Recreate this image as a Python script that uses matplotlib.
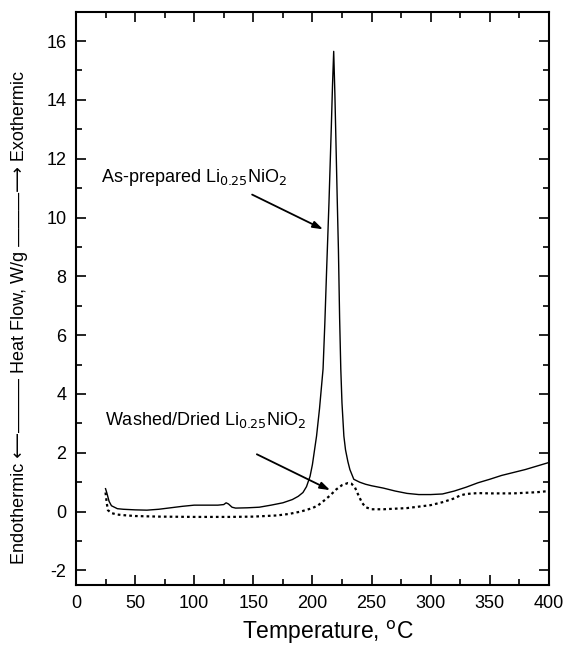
import matplotlib.pyplot as plt
from matplotlib.ticker import MultipleLocator

plt.rcParams['font.family'] = ['Liberation Sans', 'DejaVu Sans']
plt.rcParams['axes.unicode_minus'] = False

# as-prepared sample (solid line)
temp_prep = [25, 26, 28, 30, 35, 40, 50, 60, 70, 80, 90, 100, 110, 120, 125, 127, 129, 132,
             135, 145, 155, 165, 175, 183, 188, 192, 195, 198, 200, 203.5, 206, 209, 210.5, 212,
             214, 216, 217, 218, 219, 220, 221, 222, 223, 224, 225, 226.6, 228, 230, 231.7, 235,
             240, 245, 250, 260, 270, 280, 290, 300, 310, 320, 330, 340, 350, 360, 370, 380,
             390, 400]
flow_prep = [0.78, 0.65, 0.35, 0.2, 0.1, 0.08, 0.06, 0.05, 0.08, 0.13, 0.18, 0.22, 0.22, 0.22,
             0.24, 0.3, 0.26, 0.15, 0.12, 0.13, 0.15, 0.22, 0.3, 0.41, 0.52, 0.65, 0.85, 1.2,
             1.6, 2.57, 3.5, 4.85, 6.4, 8.2, 10.5, 13.1, 14.5, 15.65, 14.2, 12.4, 10.6, 8.9, 6.6,
             4.85, 3.7, 2.57, 2.1, 1.7, 1.43, 1.1, 1.0, 0.93, 0.88, 0.8, 0.7, 0.62, 0.58, 0.58,
             0.6, 0.7, 0.83, 0.98, 1.1, 1.23, 1.33, 1.43, 1.55, 1.67]

# washed / dried sample (dotted line)
temp_wash = [25, 26, 27, 30, 35, 40, 50, 70, 100, 130, 150, 170, 180, 190, 200, 205, 210, 215,
             220, 225, 230, 233, 236, 239, 242, 245, 250, 260, 270, 280, 290, 300, 310, 320,
             325, 330, 340, 350, 360, 370, 380, 390, 400]
flow_wash = [0.65, 0.3, 0.05, -0.05, -0.1, -0.12, -0.15, -0.17, -0.18, -0.18, -0.17, -0.13,
             -0.08, 0.0, 0.12, 0.22, 0.38, 0.55, 0.75, 0.9, 0.97, 0.95, 0.82, 0.55, 0.3, 0.15,
             0.08, 0.08, 0.1, 0.12, 0.17, 0.22, 0.32, 0.45, 0.55, 0.6, 0.63, 0.62, 0.62, 0.62,
             0.64, 0.66, 0.7]

# labels and arrows (data coords)
label_prep = 'As-prepared Li$_{0.25}$NiO$_2$'
label_wash = 'Washed/Dried Li$_{0.25}$NiO$_2$'
text_prep, tail_prep, head_prep = (21, 11.35), (149, 10.78), (209, 9.6)
text_wash, tail_wash, head_wash = (24.5, 3.1), (153, 1.95), (215, 0.73)

fig = plt.figure(figsize=(5.67, 6.48), dpi=100)
ax = fig.add_axes([0.134, 0.097, 0.834, 0.885])

ax.plot(temp_prep, flow_prep, color='black', lw=1.0)
ax.plot(temp_wash, flow_wash, color='black', lw=1.6, linestyle=(0, (1.2, 1.4)))

ax.set_xlim(0, 400)
ax.set_ylim(-2.5, 17)
ax.xaxis.set_major_locator(MultipleLocator(50))
ax.xaxis.set_minor_locator(MultipleLocator(25))
ax.yaxis.set_major_locator(MultipleLocator(2))
ax.yaxis.set_minor_locator(MultipleLocator(1))
ax.tick_params(which='both', direction='in', top=True, right=True, width=1.2, labelsize=13)
ax.tick_params(which='major', length=7, pad=7)
ax.tick_params(which='minor', length=4)
for s in ax.spines.values():
    s.set_linewidth(1.5)

ax.set_xlabel('Temperature, $^{\\rm o}$C', fontsize=16.5)
ax.xaxis.set_label_coords(0.533, -0.058)
ax.set_ylabel('Endothermic \u27f5\u2014\u2014\u2014 Heat Flow, W/g \u2014\u2014\u2014\u27f6 Exothermic',
              fontsize=13, va='center')
ax.yaxis.set_label_coords(-0.12, 0.466)

ax.text(text_prep[0], text_prep[1], label_prep, fontsize=13, va='center')
ax.text(text_wash[0], text_wash[1], label_wash, fontsize=13, va='center')
arrow = dict(arrowstyle='-|>,head_length=0.6,head_width=0.2', color='black', lw=1.3,
             shrinkA=0, shrinkB=0)
ax.annotate('', xy=head_prep, xytext=tail_prep, arrowprops=arrow)
ax.annotate('', xy=head_wash, xytext=tail_wash, arrowprops=arrow)

fig.savefig('out.png', dpi=100)
